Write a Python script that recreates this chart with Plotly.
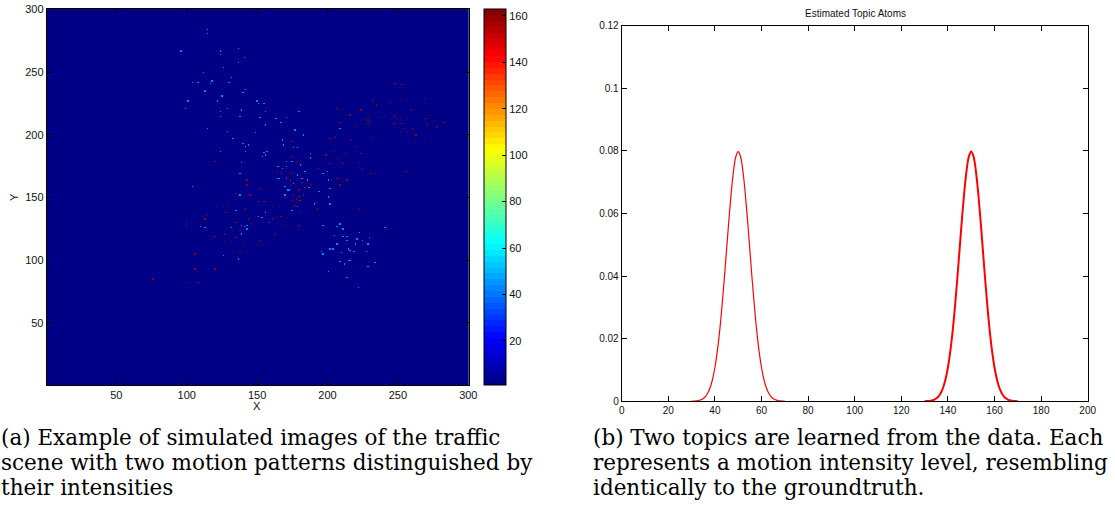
import plotly.graph_objects as go

W, H = 1115, 509

# ---------------- data: left panel (simulated image) ----------------
img_size = 300
background_value = 1
blue_value = 44
red_value = 160
z_min, z_max = 1, 163

blue_points = [
    (115,284),(115,281),(96,267),(124,267),(124,264),(137,269),(141,262),(137,258),(126,254),(112,250),
    (132,246),(104,242),(108,242),(118,243),(117,241),(130,242),(113,235),(140,234),(142,236),(125,231),
    (101,227),(122,227),(150,227),(151,225),(155,225),(99,221),(129,221),(124,219),(139,220),(156,219),
    (180,219),(124,215),(138,215),(152,214),(163,213),(164,213),(171,214),(167,210),(156,208),(115,205),
    (177,204),(129,203),(149,202),(183,200),(209,205),(133,197),(168,196),(140,193),(142,191),(144,192),
    (169,192),(176,190),(179,190),(142,187),(155,186),(157,187),(188,185),(154,183),(156,184),(124,187),
    (139,178),(175,179),(171,179),(165,175),(171,175),(181,176),(168,173),(188,182),(188,181),(179,168),
    (184,171),(197,169),(200,171),(138,169),(165,165),(166,165),(171,165),(182,165),(176,161),(170,159),
    (186,161),(172,156),(173,156),(187,158),(201,164),(202,157),(194,155),(138,152),(104,159),(170,152),
    (201,151),(201,150),(191,145),(202,145),(175,140),(179,143),(135,140),(156,138),(159,130),(197,128),
    (151,135),(153,134),(154,134),(110,127),(113,126),(132,126),(139,128),(143,128),(143,125),(141,127),
    (139,121),(207,127),(209,129),(211,125),(241,126),(205,120),(211,119),(214,119),(214,116),(207,113),
    (221,117),(223,122),(225,116),(230,118),(220,113),(229,113),(215,109),(216,108),(202,109),(204,109),
    (196,107),(197,105),(210,106),(219,107),(228,107),(215,100),(216,100),(209,99),(212,97),(234,98),
    (229,95),(201,91),(214,86),(222,78),(126,104),(137,101),(186,164),
]

red_points = [
    (248,241),(253,240),(269,229),(232,227),(235,224),(245,225),(252,228),(207,221),(224,220),(260,220),
    (245,217),(216,216),(248,215),(238,214),(228,212),(230,213),(230,211),(229,209),(252,213),(270,213),
    (209,210),(248,209),(253,209),(271,208),(220,207),(255,205),(261,205),(278,206),(283,210),(257,203),
    (252,202),(263,200),(232,199),(206,199),(205,198),(202,197),(217,196),(262,194),(269,194),(175,195),
    (220,191),(205,187),(213,186),(224,185),(199,184),(175,183),(185,182),(208,181),(223,178),(211,177),
    (202,177),(178,179),(179,179),(120,179),(168,178),(194,173),(225,173),(256,171),(231,169),(164,170),
    (167,169),(171,173),(174,170),(176,169),(171,167),(174,164),(207,165),(214,164),(203,164),(209,160),
    (182,162),(186,161),(188,160),(143,164),(143,160),(184,158),(180,156),(174,160),(176,152),(180,151),
    (178,149),(180,148),(170,150),(135,153),(145,152),(152,157),(183,152),(181,148),(175,148),(177,144),
    (192,146),(151,147),(155,147),(156,147),(161,143),(176,143),(193,141),(126,143),(129,143),(142,141),
    (128,138),(156,139),(156,136),(181,138),(222,141),(115,136),(135,130),(144,133),(161,133),(164,134),
    (167,135),(171,134),(113,133),(168,128),(180,128),(100,129),(138,124),(146,129),(127,121),(163,121),
    (120,119),(135,118),(127,115),(152,116),(141,114),(154,112),(138,107),(106,105),(136,102),(106,93),
    (120,93),(76,85),(102,82),(108,82),
]

img_x_ticks = [50, 100, 150, 200, 250, 300]
img_y_ticks = [50, 100, 150, 200, 250, 300]
cbar_ticks = [20, 40, 60, 80, 100, 120, 140, 160]

# ---------------- data: right panel (estimated topic atoms) ----------------
topic1_x = list(range(30, 71))
topic1_y = [0.00003,0.00006,0.00012,0.00025,0.00048,0.00089,0.00158,0.00272,0.00448,0.00710,
            0.01080,0.01579,0.02218,0.02995,0.03884,0.04839,0.05794,0.06664,0.07365,0.07821,
            0.07979,
            0.07821,0.07365,0.06664,0.05794,0.04839,0.03884,0.02995,0.02218,0.01579,0.01080,
            0.00710,0.00448,0.00272,0.00158,0.00089,0.00048,0.00025,0.00012,0.00006,0.00003]
topic2_x = list(range(130, 171))
topic2_y = [0.00003,0.00006,0.00012,0.00025,0.00048,0.00089,0.00158,0.00272,0.00448,0.00710,
            0.01080,0.01579,0.02218,0.02995,0.03884,0.04839,0.05794,0.06664,0.07365,0.07821,
            0.07979,
            0.07821,0.07365,0.06664,0.05794,0.04839,0.03884,0.02995,0.02218,0.01579,0.01080,
            0.00710,0.00448,0.00272,0.00158,0.00089,0.00048,0.00025,0.00012,0.00006,0.00003]
atom_x_ticks = [0, 20, 40, 60, 80, 100, 120, 140, 160, 180, 200]
atom_y_ticks = [0, 0.02, 0.04, 0.06, 0.08, 0.1, 0.12]
atom_y_labels = ["0", "0.02", "0.04", "0.06", "0.08", "0.1", "0.12"]

title_right = "Estimated Topic Atoms"
caption_a = ["(a) Example of simulated images of the traffic",
             "scene with two motion patterns distinguished by",
             "their intensities"]
caption_b = ["(b) Two topics are learned from the data. Each",
             "represents a motion intensity level, resembling",
             "identically to the groundtruth."]

# ---------------- build image ----------------
z = [[background_value] * img_size for _ in range(img_size)]
for (x, y) in blue_points:
    z[y - 1][x - 1] = blue_value
for (x, y) in red_points:
    z[y - 1][x - 1] = red_value
coords = list(range(1, img_size + 1))

# MATLAB-like jet(64) stepped colorscale
def jet(t):
    r = min(max(1.5 - abs(4 * t - 3), 0), 1)
    g = min(max(1.5 - abs(4 * t - 2), 0), 1)
    b = min(max(1.5 - abs(4 * t - 1), 0), 1)
    return f"rgb({int(r*255)},{int(g*255)},{int(b*255)})"

n = 64
jet_scale = []
for i in range(n):
    c = jet((i + 0.5) / n)
    jet_scale.append([i / n, c])
    jet_scale.append([(i + 1) / n, c])

def px(x):
    return x / W

def py(y):
    return 1 - y / H

fig = go.Figure()

fig.add_trace(go.Heatmap(
    x=coords, y=coords, z=z, zmin=z_min, zmax=z_max,
    colorscale=jet_scale, zsmooth=False, hoverinfo="skip",
    xaxis="x", yaxis="y",
    colorbar=dict(
        x=px(484), xanchor="left", xpad=0,
        y=py(9), yanchor="top", ypad=0,
        len=(384.9 - 9) / H, lenmode="fraction",
        thickness=22, thicknessmode="pixels",
        outlinewidth=1, outlinecolor="black",
        tickvals=cbar_ticks, ticks="inside", ticklen=4, tickcolor="black",
        tickfont=dict(family="Liberation Sans", size=11, color="#111"),
    ),
))

fig.add_trace(go.Scatter(x=topic1_x, y=topic1_y, mode="lines",
                         line=dict(color="rgb(255,0,0)", width=1.2, shape="spline"),
                         xaxis="x2", yaxis="y2", showlegend=False))
fig.add_trace(go.Scatter(x=topic2_x, y=topic2_y, mode="lines",
                         line=dict(color="rgb(255,0,0)", width=2, shape="spline"),
                         xaxis="x2", yaxis="y2", showlegend=False))

axis_common = dict(showline=True, linecolor="black", linewidth=1, mirror="ticks",
                   ticks="inside", ticklen=5, tickcolor="black", showgrid=False,
                   zeroline=False, automargin=False)

fig.update_layout(
    template="none",
    width=W, height=H, margin=dict(l=0, r=0, t=0, b=0, pad=0),
    paper_bgcolor="white", plot_bgcolor="white", showlegend=False,
    xaxis=dict(domain=[px(46.7), px(469)], range=[0.5, 300.5], tickvals=img_x_ticks,
               anchor="y", tickfont=dict(family="Liberation Sans", size=11, color="#111"),
               **axis_common),
    yaxis=dict(domain=[py(384.9), py(9)], range=[0.5, 300.5], tickvals=img_y_ticks,
               anchor="x", tickfont=dict(family="Liberation Sans", size=11, color="#111"),
               **axis_common),
    xaxis2=dict(domain=[px(621.7), px(1087.7)], range=[0, 200], tickvals=atom_x_ticks,
                anchor="y2", tickfont=dict(family="Liberation Sans", size=10, color="#111"),
                **axis_common),
    yaxis2=dict(domain=[py(401.3), py(25.7)], range=[0, 0.12], tickvals=atom_y_ticks,
                ticktext=atom_y_labels, anchor="x2",
                tickfont=dict(family="Liberation Sans", size=10, color="#111"),
                **axis_common),
)

def ann(x, y, text, size, family="Liberation Sans", xanchor="center", angle=0, color="#111"):
    return dict(x=px(x), y=py(y), xref="paper", yref="paper", text=text, showarrow=False,
                xanchor=xanchor, yanchor="middle", textangle=angle, borderpad=0,
                font=dict(family=family, size=size, color=color))

annotations = [
    ann(257, 406, "X", 11),
    ann(14, 197, "Y", 11, angle=-90),
    ann(855.7, 13, title_right, 10),
]
line_y = [437, 462, 487]
cap_font = "DejaVu Serif"
cap_size = 21.5
for i, t in enumerate(caption_a):
    annotations.append(ann(0, line_y[i], t, cap_size, family=cap_font, xanchor="left", color="black"))
for i, t in enumerate(caption_b):
    annotations.append(ann(592, line_y[i], t, cap_size, family=cap_font, xanchor="left", color="black"))
fig.update_layout(annotations=annotations)

fig.write_html("out.html", config={"displayModeBar": False},
               post_script="document.body.style.margin='0';document.body.style.overflow='hidden';")
